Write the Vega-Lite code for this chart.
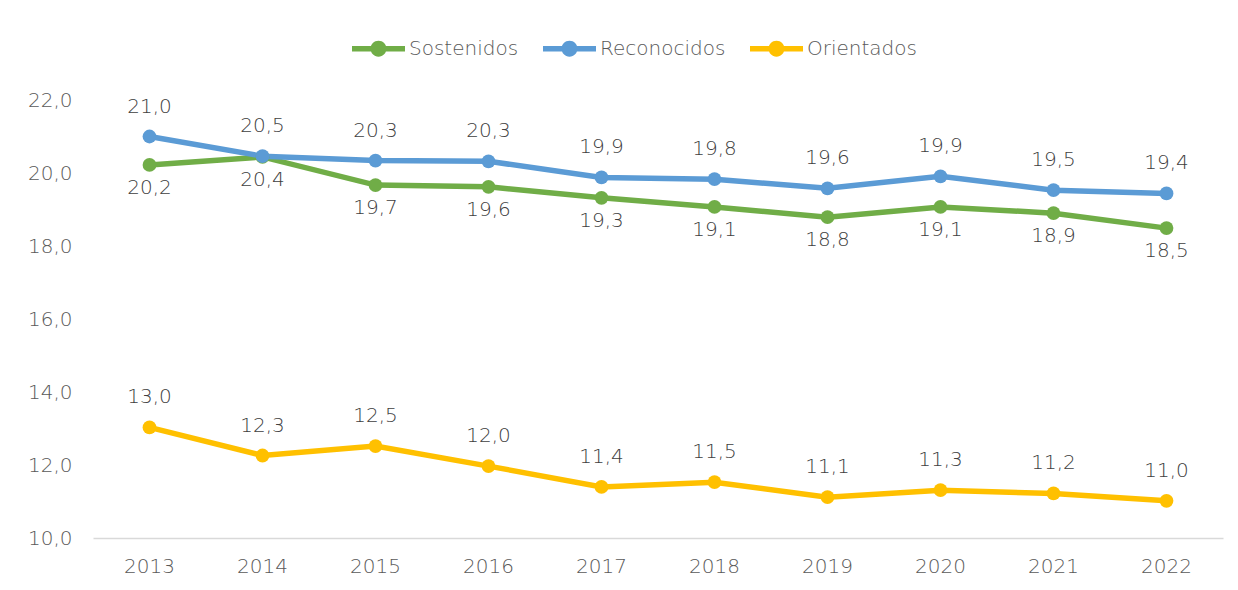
{
  "$schema": "https://vega.github.io/schema/vega-lite/v6.json",
  "width": 1130,
  "height": 438,
  "autosize": {"type": "none"},
  "padding": {"left": 93, "top": 100, "right": 15, "bottom": 52},
  "background": "white",
  "config": {
    "locale": {"number": {"decimal": ",", "thousands": ".", "grouping": [3], "currency": ["", " €"]}},
    "view": {"stroke": null},
    "font": "DejaVu Sans",
    "axis": {"labelFont": "DejaVu Sans", "labelFontSize": 20, "labelFontWeight": 200, "labelColor": "#595959", "grid": false, "ticks": false, "title": null},
    "legend": {"labelFont": "DejaVu Sans", "labelFontSize": 20, "labelFontWeight": 200, "labelColor": "#595959"}
  },
  "data": {"values": [
    {"year": "2013", "series": "Sostenidos", "value": 20.22},
    {"year": "2014", "series": "Sostenidos", "value": 20.44},
    {"year": "2015", "series": "Sostenidos", "value": 19.67},
    {"year": "2016", "series": "Sostenidos", "value": 19.62},
    {"year": "2017", "series": "Sostenidos", "value": 19.32},
    {"year": "2018", "series": "Sostenidos", "value": 19.07},
    {"year": "2019", "series": "Sostenidos", "value": 18.79},
    {"year": "2020", "series": "Sostenidos", "value": 19.07},
    {"year": "2021", "series": "Sostenidos", "value": 18.9},
    {"year": "2022", "series": "Sostenidos", "value": 18.49},
    {"year": "2013", "series": "Reconocidos", "value": 21.0},
    {"year": "2014", "series": "Reconocidos", "value": 20.46},
    {"year": "2015", "series": "Reconocidos", "value": 20.34},
    {"year": "2016", "series": "Reconocidos", "value": 20.32},
    {"year": "2017", "series": "Reconocidos", "value": 19.88},
    {"year": "2018", "series": "Reconocidos", "value": 19.83},
    {"year": "2019", "series": "Reconocidos", "value": 19.58},
    {"year": "2020", "series": "Reconocidos", "value": 19.91},
    {"year": "2021", "series": "Reconocidos", "value": 19.53},
    {"year": "2022", "series": "Reconocidos", "value": 19.44},
    {"year": "2013", "series": "Orientados", "value": 13.03},
    {"year": "2014", "series": "Orientados", "value": 12.26},
    {"year": "2015", "series": "Orientados", "value": 12.52},
    {"year": "2016", "series": "Orientados", "value": 11.97},
    {"year": "2017", "series": "Orientados", "value": 11.4},
    {"year": "2018", "series": "Orientados", "value": 11.53},
    {"year": "2019", "series": "Orientados", "value": 11.12},
    {"year": "2020", "series": "Orientados", "value": 11.31},
    {"year": "2021", "series": "Orientados", "value": 11.22},
    {"year": "2022", "series": "Orientados", "value": 11.02}
  ]},
  "encoding": {
    "x": {"field": "year", "type": "ordinal", "scale": {"type": "band", "paddingInner": 0, "paddingOuter": 0},
      "axis": {"labelAngle": 0, "labelPadding": 18, "domainColor": "#d9d9d9", "domainWidth": 1.5}},
    "y": {"field": "value", "type": "quantitative", "scale": {"domain": [10, 22], "nice": false, "zero": false},
      "axis": {"values": [10, 12, 14, 16, 18, 20, 22], "format": ".1f", "domain": false, "labelPadding": 21}},
    "color": {"field": "series", "type": "nominal",
      "scale": {"domain": ["Sostenidos", "Reconocidos", "Orientados"], "range": ["#70AD47", "#5B9BD5", "#FFC000"]},
      "legend": {"orient": "none", "direction": "horizontal", "legendX": 259, "legendY": -78, "title": null,
        "symbolType": "M -1 -0.1 H 1 V 0.1 H -1 Z M -0.3 0 A 0.3 0.3 0 1 1 0.3 0 A 0.3 0.3 0 1 1 -0.3 0 Z",
        "symbolSize": 2809, "symbolStrokeWidth": 0, "columnPadding": 24, "labelOffset": 4,
        "encode": {"symbols": {"update": {"fill": {"scale": "color", "field": "value"}, "strokeWidth": {"value": 0}, "size": {"value": 2809}}}}}}
  },
  "layer": [
    {"mark": {"type": "line", "strokeWidth": 5.5}},
    {"mark": {"type": "point", "filled": true, "opacity": 1, "size": 190}},
    {"transform": [{"filter": "datum.series !== 'Sostenidos'"}],
     "mark": {"type": "text", "dy": -30, "fontSize": 20, "fontWeight": 200, "font": "DejaVu Sans"},
     "encoding": {"text": {"field": "value", "type": "quantitative", "format": ".1f"}, "color": {"value": "#404040"}}},
    {"transform": [{"filter": "datum.series === 'Sostenidos'"}],
     "mark": {"type": "text", "dy": 23, "fontSize": 20, "fontWeight": 200, "font": "DejaVu Sans"},
     "encoding": {"text": {"field": "value", "type": "quantitative", "format": ".1f"}, "color": {"value": "#404040"}}}
  ]
}
